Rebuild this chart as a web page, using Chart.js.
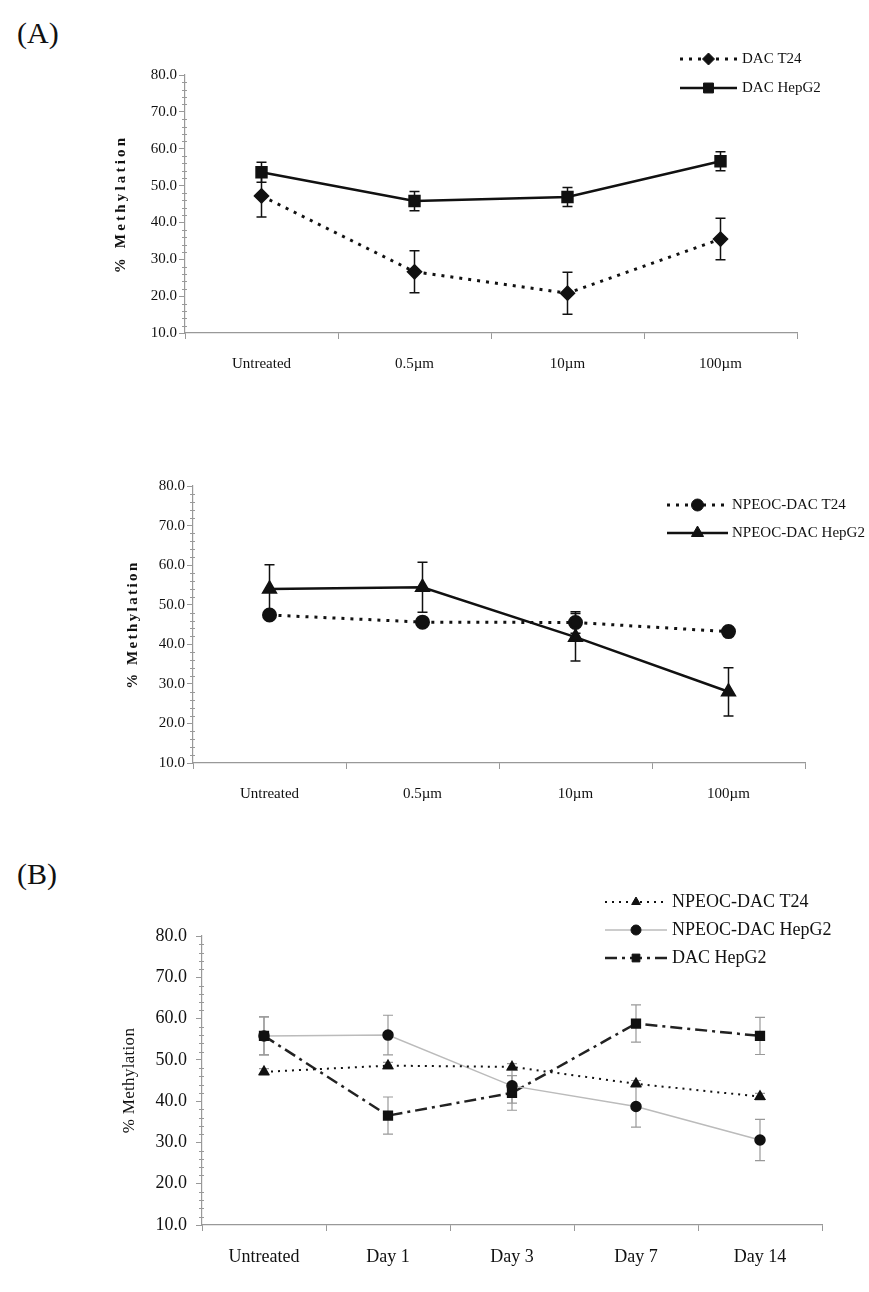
<!DOCTYPE html>
<html>
<head>
<meta charset="utf-8">
<script src="https://cdn.jsdelivr.net/npm/chart.js@4.4.1/dist/chart.umd.min.js"></script>
<style>
    body { margin: 0; background: #fff; }
    #page { position: relative; width: 869px; height: 1292px; font-family: "Liberation Serif", serif; color: #111; }
    .panel { position: absolute; left: 17px; font-size: 30px; line-height: 1; }
    canvas { position: absolute; left: 0; }
</style>
</head>
<body>
<div id="page">
    <div class="panel" style="top:18px">(A)</div>
    <div class="panel" style="top:859px">(B)</div>
    <canvas id="chartA1" width="869" height="400" style="top:0"></canvas>
    <canvas id="chartA2" width="869" height="440" style="top:400px"></canvas>
    <canvas id="chartB" width="869" height="452" style="top:840px"></canvas>
</div>
<script>
// panel A: dose
const doseLabels = ['Untreated', '0.5µm', '10µm', '100µm'];
const dacT24 = [47.2, 26.6, 20.8, 35.5];
const dacT24Err = [5.7, 5.7, 5.7, 5.6];
const dacHepG2 = [53.6, 45.8, 46.9, 56.6];
const dacHepG2Err = [2.7, 2.6, 2.6, 2.6];
const npeocT24 = [47.4, 45.6, 45.5, 43.2];
const npeocT24Err = [1.0, 1.0, 2.7, 1.0];
const npeocHepG2 = [54.0, 54.4, 41.8, 28.0];
const npeocHepG2Err = [6.1, 6.3, 6.0, 6.1];

// panel B: time course
const dayLabels = ['Untreated', 'Day 1', 'Day 3', 'Day 7', 'Day 14'];
const bNpeocT24 = [47.1, 48.6, 48.3, 44.2, 41.1];
const bNpeocT24Err = [0.8, 0.8, 0.8, 0.8, 0.8];
const bNpeocHepG2 = [55.8, 56.0, 43.7, 38.7, 30.6];
const bNpeocHepG2Err = [4.6, 4.8, 4.2, 5.0, 5.0];
const bDacHepG2 = [55.8, 36.5, 42.0, 58.8, 55.8];
const bDacHepG2Err = [4.6, 4.5, 4.2, 4.5, 4.5];

const yTicks = [10, 20, 30, 40, 50, 60, 70, 80];
const yTitle = '% Methylation';

// vertical error bars under the lines
const errorBars = {
    id: 'errorBars',
    beforeDatasetsDraw(chart) {
        const ctx = chart.ctx;
        const y = chart.scales.y;
        chart.data.datasets.forEach((ds, i) => {
            if (!ds.errors) return;
            const meta = chart.getDatasetMeta(i);
            ctx.save();
            ctx.strokeStyle = ds.errorColor || '#111';
            ctx.lineWidth = ds.errorWidth || 1.5;
            meta.data.forEach((pt, j) => {
                const e = ds.errors[j];
                if (!e) return;
                const top = y.getPixelForValue(ds.data[j] + e);
                const bot = y.getPixelForValue(ds.data[j] - e);
                const cap = ds.capSize || 5;
                ctx.beginPath();
                ctx.moveTo(pt.x, top); ctx.lineTo(pt.x, bot);
                ctx.moveTo(pt.x - cap, top); ctx.lineTo(pt.x + cap, top);
                ctx.moveTo(pt.x - cap, bot); ctx.lineTo(pt.x + cap, bot);
                ctx.stroke();
            });
            ctx.restore();
        });
    }
};

// small minor ticks on the y axis every 2 units
const minorTicks = {
    id: 'minorTicks',
    afterDraw(chart, args, opts) {
        const y = chart.scales.y;
        const x = chart.chartArea.left;
        const ctx = chart.ctx;
        ctx.save();
        ctx.strokeStyle = opts.color || '#999';
        ctx.lineWidth = 1;
        for (let v = y.min; v <= y.max; v += 2) {
            if (v % 10 === 0) continue;
            const py = Math.round(y.getPixelForValue(v)) + 0.5;
            ctx.beginPath();
            ctx.moveTo(x - 3, py);
            ctx.lineTo(x + 2, py);
            ctx.stroke();
        }
        ctx.restore();
    }
};

// rotated y title, letter-spaced like the original
const axisTitle = {
    id: 'axisTitle',
    afterDraw(chart, args, opts) {
        const ctx = chart.ctx;
        const a = chart.chartArea;
        ctx.save();
        ctx.translate(opts.x, (a.top + a.bottom) / 2);
        ctx.rotate(-Math.PI / 2);
        ctx.font = opts.font;
        ctx.letterSpacing = (opts.spacing || 0) + 'px';
        ctx.fillStyle = '#111';
        ctx.textAlign = 'center';
        ctx.textBaseline = 'middle';
        ctx.fillText(yTitle, 0, 0);
        ctx.restore();
    }
};

// legend with line sample + marker, top right
const sampleLegend = {
    id: 'sampleLegend',
    afterDraw(chart, args, opts) {
        const ctx = chart.ctx;
        chart.data.datasets.forEach((ds, i) => {
            const y = opts.y + i * opts.dy;
            ctx.save();
            ctx.strokeStyle = ds.borderColor;
            ctx.lineWidth = ds.borderWidth;
            ctx.setLineDash(ds.borderDash || []);
            ctx.beginPath();
            ctx.moveTo(opts.x, y);
            ctx.lineTo(opts.x + opts.len, y);
            ctx.stroke();
            ctx.setLineDash([]);
            ctx.fillStyle = ds.pointBackgroundColor;
            ctx.strokeStyle = ds.pointBorderColor;
            ctx.lineWidth = 1;
            Chart.helpers.drawPoint(ctx, {
                pointStyle: ds.pointStyle, radius: ds.pointRadius, rotation: 0, borderWidth: 1
            }, opts.x + opts.len / 2, y);
            ctx.fillStyle = '#111';
            ctx.font = opts.font;
            ctx.textBaseline = 'middle';
            ctx.fillText(ds.label, opts.x + opts.len + opts.gap, y);
            ctx.restore();
        });
    }
};

function makeChart(id, labels, datasets, o) {
    const ctx = document.getElementById(id).getContext('2d');
    return new Chart(ctx, {
        type: 'line',
        data: { labels: labels, datasets: datasets },
        plugins: [errorBars, minorTicks, axisTitle, sampleLegend],
        options: {
            responsive: false,
            animation: false,
            layout: { padding: o.padding },
            elements: { line: { tension: 0 } },
            plugins: {
                legend: { display: false },
                tooltip: { enabled: false },
                sampleLegend: o.legend,
                axisTitle: o.title,
                minorTicks: { color: '#999' }
            },
            scales: {
                x: {
                    offset: true,
                    border: { color: '#999', width: 1.2 },
                    grid: { drawOnChartArea: false, tickLength: 6, color: '#999', offset: true },
                    ticks: { padding: o.xPad, color: '#111', font: o.xFont, autoSkip: false, maxRotation: 0 },
                    afterFit: s => { s.height = 45; }
                },
                y: {
                    min: 10,
                    max: 80,
                    border: { color: '#999', width: 1.2 },
                    grid: { drawOnChartArea: false, tickLength: 6, color: '#999' },
                    afterBuildTicks: s => { s.ticks = yTicks.map(v => ({ value: v })); },
                    ticks: { padding: o.yPad, color: '#111', font: o.yFont, autoSkip: false, callback: v => v.toFixed(1) },
                    afterFit: s => { s.width = o.yWidth; }
                }
            }
        }
    });
}

const serif = '"Liberation Serif", "Times New Roman", serif';

makeChart('chartA1', doseLabels, [{
    label: 'DAC T24',
    data: dacT24,
    errors: dacT24Err,
    capSize: 5,
    borderColor: '#111',
    borderWidth: 3,
    borderDash: [3, 6],
    pointStyle: 'rectRot',
    pointRadius: 6,
    pointBackgroundColor: '#111',
    pointBorderColor: '#111'
}, {
    label: 'DAC HepG2',
    data: dacHepG2,
    errors: dacHepG2Err,
    capSize: 5,
    borderColor: '#111',
    borderWidth: 2.5,
    pointStyle: 'rect',
    pointRadius: 7,
    pointBackgroundColor: '#111',
    pointBorderColor: '#111'
}], {
    padding: { left: 100, top: 75, right: 72, bottom: 22 },
    yWidth: 85,
    xPad: 16,
    yPad: 2,
    xFont: { family: serif, size: 15 },
    yFont: { family: serif, size: 15 },
    title: { x: 121, font: 'bold 15px ' + serif, spacing: 3.2 },
    legend: { x: 680, y: 59, dy: 29, len: 57, gap: 5, font: '15px ' + serif }
});

makeChart('chartA2', doseLabels, [{
    label: 'NPEOC-DAC T24',
    data: npeocT24,
    errors: npeocT24Err,
    capSize: 5,
    borderColor: '#111',
    borderWidth: 3,
    borderDash: [3, 6],
    pointStyle: 'circle',
    pointRadius: 6,
    pointBackgroundColor: '#111',
    pointBorderColor: '#111'
}, {
    label: 'NPEOC-DAC HepG2',
    data: npeocHepG2,
    errors: npeocHepG2Err,
    capSize: 5,
    borderColor: '#111',
    borderWidth: 2.5,
    pointStyle: 'triangle',
    pointRadius: 7,
    pointBackgroundColor: '#111',
    pointBorderColor: '#111'
}], {
    padding: { left: 110, top: 86, right: 64, bottom: 32 },
    yWidth: 83,
    xPad: 16,
    yPad: 2,
    xFont: { family: serif, size: 15 },
    yFont: { family: serif, size: 15 },
    title: { x: 133, font: 'bold 15px ' + serif, spacing: 2.4 },
    legend: { x: 667, y: 105, dy: 28, len: 61, gap: 4, font: '15px ' + serif }
});

makeChart('chartB', dayLabels, [{
    label: 'NPEOC-DAC T24',
    data: bNpeocT24,
    errors: bNpeocT24Err,
    errorColor: '#999',
    errorWidth: 1.2,
    capSize: 5,
    borderColor: '#111',
    borderWidth: 2,
    borderDash: [2, 5],
    pointStyle: 'triangle',
    pointRadius: 5,
    pointBackgroundColor: '#111',
    pointBorderColor: '#111'
}, {
    label: 'NPEOC-DAC HepG2',
    data: bNpeocHepG2,
    errors: bNpeocHepG2Err,
    errorColor: '#999',
    errorWidth: 1.2,
    capSize: 5,
    borderColor: '#bbb',
    borderWidth: 1.5,
    pointStyle: 'circle',
    pointRadius: 5,
    pointBackgroundColor: '#111',
    pointBorderColor: '#111'
}, {
    label: 'DAC HepG2',
    data: bDacHepG2,
    errors: bDacHepG2Err,
    errorColor: '#999',
    errorWidth: 1.2,
    capSize: 5,
    borderColor: '#222',
    borderWidth: 2.5,
    borderDash: [12, 5, 3, 5],
    pointStyle: 'rect',
    pointRadius: 5.5,
    pointBackgroundColor: '#111',
    pointBorderColor: '#111'
}], {
    padding: { left: 110, top: 96, right: 47, bottom: 22 },
    yWidth: 92,
    xPad: 15,
    yPad: 9,
    xFont: { family: serif, size: 18 },
    yFont: { family: serif, size: 18 },
    title: { x: 130, font: '17px ' + serif, spacing: 0.3 },
    legend: { x: 605, y: 62, dy: 28, len: 62, gap: 5, font: '18px ' + serif }
});
</script>
</body>
</html>
